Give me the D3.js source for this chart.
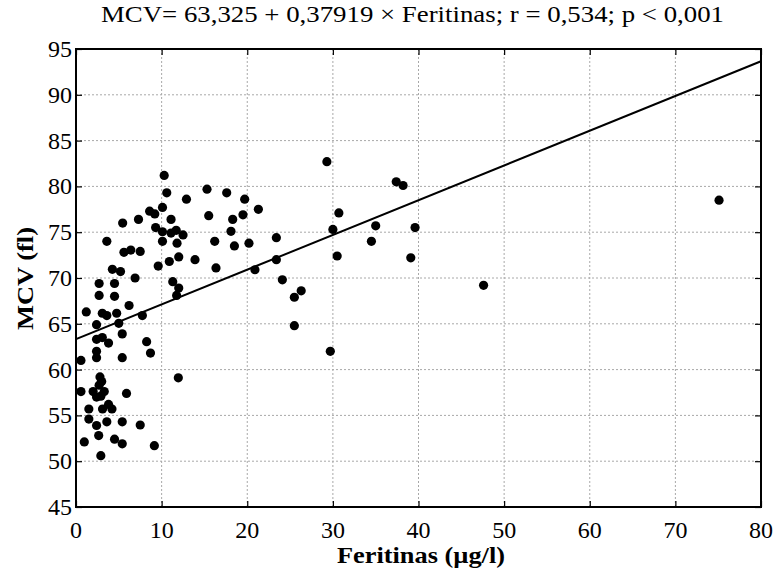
<!DOCTYPE html>
<html><head><meta charset="utf-8">
<script src="https://cdn.jsdelivr.net/npm/d3@7/dist/d3.min.js"></script>
<style>body{margin:0;background:#fff} text{font-family:"Liberation Serif","Times New Roman",serif;}</style>
</head><body>
<svg id="c" width="776" height="568"></svg>
<script>
const titleText = "MCV= 63,325 + 0,37919 × Feritinas; r = 0,534; p < 0,001";
const xLabel = "Feritinas (µg/l)";
const yLabel = "MCV (fl)";
const xTicks = [0,10,20,30,40,50,60,70,80];
const yTicks = [45,50,55,60,65,70,75,80,85,90,95];
const intercept = 63.325, slope = 0.37919;
const ferritin = [37.4,38.2,39.6,39.1,47.6,75.1,29.3,30.7,30.0,35.0,23.4,34.5,23.4,30.5,24.1,25.5,26.3,25.5,29.7,
10.3,10.6,15.3,17.6,19.7,12.9,21.3,8.6,9.2,10.1,15.5,19.5,18.3,11.1,9.3,10.1,11.1,11.7,12.5,18.1,10.1,11.8,16.2,18.5,20.2,9.6,10.9,12.0,13.9,16.35,20.9,11.3,12.0,11.75,
5.45,7.3,3.6,5.6,6.4,7.5,4.25,5.2,6.9,2.7,4.5,2.7,4.5,
6.2,1.2,3.07,3.6,4.75,7.75,2.4,5.0,5.4,2.4,3.07,3.8,8.25,8.7,2.4,2.4,5.4,0.58,11.95,2.8,3.0,2.7,0.58,2.0,3.3,2.4,5.9,2.9,3.8,1.5,3.1,4.2,1.5,3.6,5.4,7.5,2.4,2.65,0.97,4.5,5.4,9.15,2.9];
const mcv = [80.5,80.1,75.5,72.2,69.2,78.5,82.7,77.1,75.3,75.7,74.4,74.0,72.0,72.4,69.8,67.9,68.6,64.8,62.0,
81.2,79.3,79.7,79.3,78.6,78.6,77.5,77.3,77.0,77.7,76.8,76.9,76.4,76.4,75.5,75.05,74.9,75.2,74.7,75.1,74.0,73.8,74.0,73.5,73.8,71.3,71.8,72.3,72.0,71.1,70.9,69.6,68.9,68.1,
76.0,76.4,74.0,72.8,73.05,72.9,70.95,70.7,70.0,69.4,69.4,68.1,68.0,
67.0,66.3,66.15,65.9,66.15,65.9,64.9,65.05,63.9,63.3,63.5,62.9,63.05,61.8,62.0,61.3,61.3,61.0,59.1,59.2,58.7,58.3,57.6,57.6,57.6,57.0,57.4,57.1,56.2,55.7,55.7,55.7,54.6,54.3,54.3,53.95,53.9,52.8,52.1,52.4,51.9,51.7,50.6];

const svg = d3.select("#c");
const L=76,R=761,T=49,B=507;
const x = d3.scaleLinear().domain([0,80]).range([L,R]);
const y = d3.scaleLinear().domain([45,95]).range([B,T]);

// grid
svg.append("g").selectAll("line").data(xTicks.slice(1,-1)).join("line")
  .attr("x1",d=>x(d)).attr("x2",d=>x(d)).attr("y1",T).attr("y2",B)
  .attr("stroke","#a8a8a8").attr("stroke-width",1).attr("stroke-dasharray","2,2");
svg.append("g").selectAll("line").data(yTicks.slice(1,-1)).join("line")
  .attr("y1",d=>y(d)).attr("y2",d=>y(d)).attr("x1",L).attr("x2",R)
  .attr("stroke","#a8a8a8").attr("stroke-width",1).attr("stroke-dasharray","2,2");

// axes with inner ticks
const axB = svg.append("g").attr("transform",`translate(0,${B})`).call(d3.axisTop(x).tickValues(xTicks).tickSize(6).tickFormat(""));
const axT = svg.append("g").attr("transform",`translate(0,${T})`).call(d3.axisBottom(x).tickValues(xTicks).tickSize(6).tickFormat(""));
const axL = svg.append("g").attr("transform",`translate(${L},0)`).call(d3.axisRight(y).tickValues(yTicks).tickSize(6).tickFormat(""));
const axR = svg.append("g").attr("transform",`translate(${R},0)`).call(d3.axisLeft(y).tickValues(yTicks).tickSize(6).tickFormat(""));
[axB,axT,axL,axR].forEach(a=>{a.select(".domain").remove(); a.selectAll("line").attr("stroke","#000").attr("stroke-width",1.2);});
svg.append("rect").attr("x",L).attr("y",T).attr("width",R-L).attr("height",B-T)
  .attr("fill","none").attr("stroke","#000").attr("stroke-width",2);

// tick labels
svg.append("g").selectAll("text").data(xTicks).join("text")
  .attr("x",d=>x(d)).attr("y",538).attr("text-anchor","middle")
  .attr("font-size",24).text(d=>d);
svg.append("g").selectAll("text").data(yTicks).join("text")
  .attr("x",72).attr("y",d=>y(d)+8).attr("text-anchor","end")
  .attr("font-size",24).text(d=>d);

// regression line
const line = d3.line().x(d=>x(d)).y(d=>y(intercept+slope*d));
svg.append("path").datum([0,80]).attr("d",line).attr("stroke","#000").attr("stroke-width",2).attr("fill","none");

// points
svg.append("g").selectAll("circle").data(ferritin.map((f,i)=>[f,mcv[i]])).join("circle")
  .attr("cx",d=>x(d[0])).attr("cy",d=>y(d[1])).attr("r",4.6).attr("fill","#000");

// titles
svg.append("text").attr("x",101).attr("y",22)
  .attr("font-size",23).attr("textLength",623).attr("lengthAdjust","spacingAndGlyphs").text(titleText);
svg.append("text").attr("x",337).attr("y",563)
  .attr("font-size",24).attr("font-weight","bold").attr("textLength",168).attr("lengthAdjust","spacingAndGlyphs").text(xLabel);
svg.append("text").attr("transform","translate(33,330) rotate(-90)")
  .attr("font-size",24).attr("font-weight","bold").attr("textLength",103).attr("lengthAdjust","spacingAndGlyphs").text(yLabel);
</script>
</body></html>
